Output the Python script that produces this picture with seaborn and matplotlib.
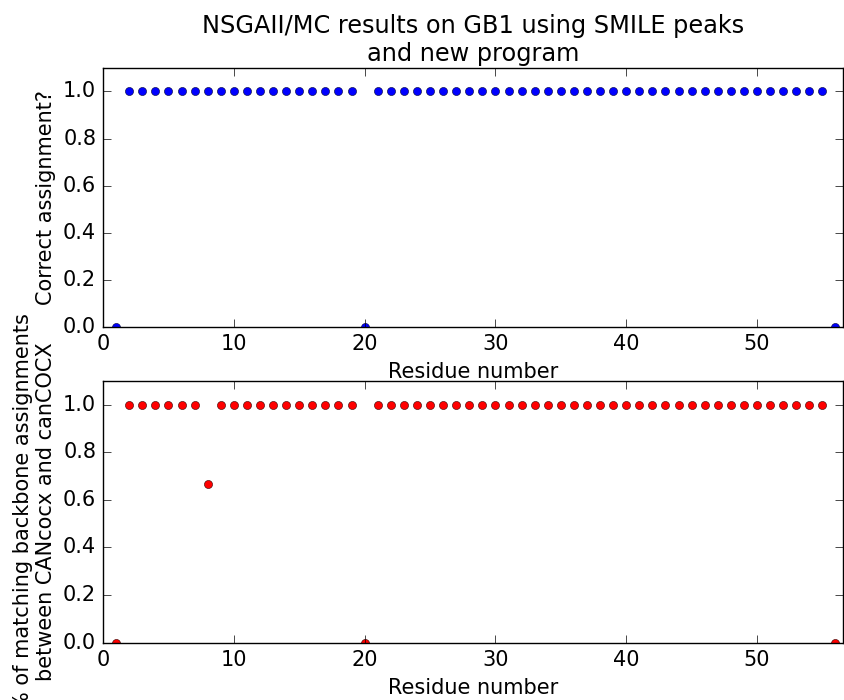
import numpy as np
import pandas as pd
import matplotlib
matplotlib.use("Agg")
import matplotlib.pyplot as plt
import seaborn as sns

residues = list(range(1, 57))
correct = [0] + [1] * 18 + [0] + [1] * 35 + [0]
matching = [0] + [1] * 6 + [0.667] + [1] * 11 + [0] + [1] * 35 + [0]

title = "NSGAII/MC results on GB1 using SMILE peaks\nand new program"
xlabel = "Residue number"
ylabel_top = "Correct assignment?"
ylabel_bot = "% of matching backbone assignments\nbetween CANcocx and canCOCX"
yticks = [0.0, 0.2, 0.4, 0.6, 0.8, 1.0]
xticks = [0, 10, 20, 30, 40, 50]

plt.style.use("classic")
plt.rcParams["font.family"] = ["DejaVu Sans"]

df_top = pd.DataFrame({"res": residues, "val": correct})
df_bot = pd.DataFrame({"res": residues, "val": matching})

fig = plt.figure(figsize=(8.45, 7.0), dpi=100, facecolor="white")
ax1 = fig.add_axes([0.122, 0.533, 0.876, 0.370])
ax2 = fig.add_axes([0.122, 0.082, 0.876, 0.374])

sns.scatterplot(data=df_top, x="res", y="val", ax=ax1, color="blue",
                edgecolor="#000033", linewidth=0.4, s=34, legend=False)
sns.scatterplot(data=df_bot, x="res", y="val", ax=ax2, color="red",
                edgecolor="#330000", linewidth=0.4, s=34, legend=False)

for ax, yl in ((ax1, ylabel_top), (ax2, ylabel_bot)):
    ax.set_xlim(0, 56.6)
    ax.set_ylim(0, 1.1)
    ax.set_xticks(xticks)
    ax.set_yticks(yticks)
    ax.set_xlabel(xlabel, fontsize=15, labelpad=6)
    ax.set_ylabel(yl, fontsize=15)
    ax.tick_params(labelsize=15, direction="in", top=True, right=True,
                   length=6, pad=5)
    ax.set_facecolor("white")

ax1.set_title(title, fontsize=17.3)

fig.savefig("out.png", dpi=100, facecolor="white")
